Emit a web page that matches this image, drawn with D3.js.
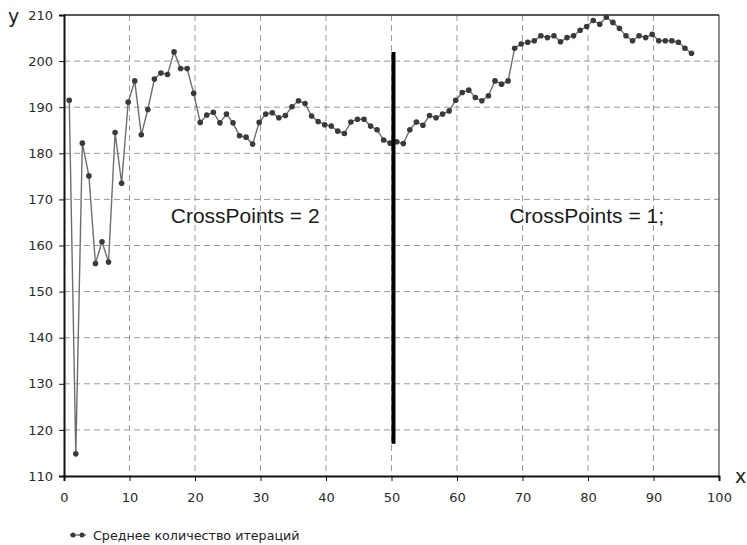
<!DOCTYPE html>
<html>
<head>
<meta charset="utf-8">
<script src="https://cdn.jsdelivr.net/npm/d3@7"></script>
<style>
  body { margin: 0; background: #fff; }
  svg { display: block; }
</style>
</head>
<body>
<script>
// average iterations per generation (x = 1..96)
var avgIterations = [
	191.5, 114.8, 182.2, 175.1, 156.1, 160.8, 156.4, 184.5, 173.5, 191.1,
	195.7, 184.0, 189.5, 196.1, 197.4, 197.1, 202.0, 198.4, 198.4, 193.0,
	186.7, 188.3, 188.9, 186.6, 188.5, 186.6, 183.8, 183.5, 182.0, 186.7,
	188.5, 188.8, 187.7, 188.2, 190.1, 191.4, 190.8, 188.1, 186.9, 186.2,
	185.9, 184.8, 184.3, 186.8, 187.4, 187.4, 185.9, 185.1, 182.9, 182.2,
	182.5, 182.1, 185.1, 186.8, 186.1, 188.2, 187.7, 188.5, 189.2, 191.5,
	193.2, 193.7, 192.1, 191.4, 192.5, 195.7, 195.0, 195.7, 202.8, 203.7,
	204.1, 204.4, 205.5, 205.1, 205.5, 204.2, 205.1, 205.5, 206.7, 207.5,
	208.8, 208.0, 209.5, 208.4, 207.1, 205.5, 204.4, 205.5, 205.1, 205.8,
	204.4, 204.4, 204.4, 204.1, 202.8, 201.7
];
var xTicks = [0, 10, 20, 30, 40, 50, 60, 70, 80, 90, 100];
var yTicks = [110, 120, 130, 140, 150, 160, 170, 180, 190, 200, 210];

// the thick separator and the two notes
var divider = { x: 50.3, y0: 117, y1: 202 };
var notes = [
	{ text: "CrossPoints = 2", x: 16.3, y: 164.8 },
	{ text: "CrossPoints = 1;", x: 68.0, y: 164.8 }
];
var legendLabel = "Среднее количество итераций";

var width = 747,
	height = 545;

var x = d3.scaleLinear().domain([0, 100]).range([64, 719]);
var y = d3.scaleLinear().domain([110, 210]).range([476, 15]);

var svg = d3.select("body").append("svg")
	.attr("width", width)
	.attr("height", height)
	.style("font-family", "'DejaVu Sans', sans-serif");

// dashed grid
svg.append("g")
	.selectAll("line.hg")
	.data(yTicks.slice(1, -1))
	.enter().append("line")
		.attr("x1", x(0)).attr("x2", x(100))
		.attr("y1", d => y(d)).attr("y2", d => y(d))
		.attr("stroke", "#9a9a9a")
		.attr("stroke-dasharray", "6,4");
svg.append("g")
	.selectAll("line.vg")
	.data(xTicks.slice(1, -1))
	.enter().append("line")
		.attr("x1", d => x(d)).attr("x2", d => x(d))
		.attr("y1", y(210)).attr("y2", y(110))
		.attr("stroke", "#9a9a9a")
		.attr("stroke-dasharray", "6,4");

// frame: top and right borders
svg.append("line")
	.attr("x1", x(0)).attr("x2", x(100))
	.attr("y1", y(210)).attr("y2", y(210))
	.attr("stroke", "#222").attr("stroke-width", 1.5);
svg.append("line")
	.attr("x1", x(100)).attr("x2", x(100))
	.attr("y1", y(210)).attr("y2", y(110))
	.attr("stroke", "#222").attr("stroke-width", 1);

// axes
var xAxis = svg.append("g")
	.attr("transform", "translate(0," + y(110) + ")")
	.call(d3.axisBottom(x).tickValues(xTicks).tickSize(5).tickPadding(12));
var yAxis = svg.append("g")
	.attr("transform", "translate(" + x(0) + ",0)")
	.call(d3.axisLeft(y).tickValues(yTicks).tickSize(5).tickPadding(6));

[xAxis, yAxis].forEach(function(g) {
	g.select(".domain").attr("stroke", "#111").attr("stroke-width", 2);
	g.selectAll(".tick line").attr("stroke", "#111");
	g.selectAll(".tick text")
		.attr("fill", "#2a2a2a")
		.style("font-size", "13px")
		.style("font-family", "'DejaVu Sans', sans-serif");
});

// axis names
svg.append("text")
	.attr("x", 8).attr("y", 23)
	.style("font-size", "19px").attr("fill", "#222")
	.text("y");
svg.append("text")
	.attr("x", 735).attr("y", 483)
	.style("font-size", "19px").attr("fill", "#222")
	.text("x");

// series
var line = d3.line()
	.x((d, i) => x(i + 0.8))
	.y(d => y(d));

svg.append("path")
	.datum(avgIterations)
	.attr("d", line)
	.attr("fill", "none")
	.attr("stroke", "#6e6e6e")
	.attr("stroke-width", 1.4);

svg.append("g")
	.selectAll("circle")
	.data(avgIterations)
	.enter().append("circle")
		.attr("cx", (d, i) => x(i + 0.8))
		.attr("cy", d => y(d))
		.attr("r", 2.8)
		.attr("fill", "#3a3a3a");

// thick divider
svg.append("line")
	.attr("x1", x(divider.x)).attr("x2", x(divider.x))
	.attr("y1", y(divider.y1)).attr("y2", y(divider.y0))
	.attr("stroke", "#000")
	.attr("stroke-width", 4);

// notes
svg.append("g")
	.selectAll("text")
	.data(notes)
	.enter().append("text")
		.attr("x", d => x(d.x))
		.attr("y", d => y(d.y))
		.style("font-family", "'Liberation Sans', Arial, sans-serif")
		.style("font-size", "21px")
		.attr("fill", "#1a1a1a")
		.text(d => d.text);

// legend
var legend = svg.append("g").attr("transform", "translate(70,535)");
legend.append("line")
	.attr("x1", 0).attr("x2", 16)
	.attr("stroke", "#6e6e6e").attr("stroke-width", 1.4);
legend.selectAll("circle")
	.data([3, 12])
	.enter().append("circle")
		.attr("cx", d => d).attr("cy", 0).attr("r", 2.5)
		.attr("fill", "#3a3a3a");
legend.append("text")
	.attr("x", 23).attr("y", 4.5)
	.style("font-size", "12.7px")
	.attr("fill", "#222")
	.text(legendLabel);
</script>
</body>
</html>
